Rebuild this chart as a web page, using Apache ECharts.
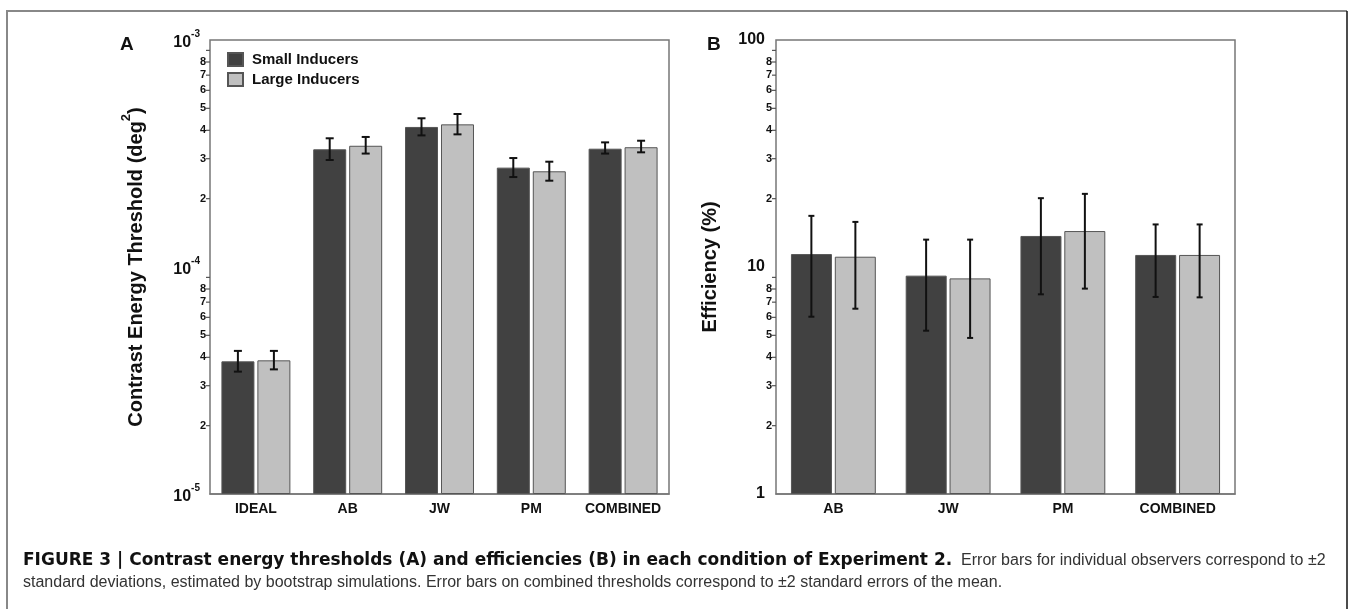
<!DOCTYPE html>
<html>
<head>
<meta charset="utf-8">
<script src="https://cdn.jsdelivr.net/npm/echarts@6/dist/echarts.min.js"></script>
<style>
  html, body { margin: 0; padding: 0; background: #fff; }
  #chart { width: 1350px; height: 609px; }
</style>
</head>
<body>
<div id="chart"></div>
<script>
// categories
var conditionsA = ['IDEAL', 'AB', 'JW', 'PM', 'COMBINED'];
var conditionsB = ['AB', 'JW', 'PM', 'COMBINED'];

// panel A: contrast energy thresholds (deg^2), mean and +-2 sd bounds
var thrSmall   = [3.84e-5, 3.30e-4, 4.14e-4, 2.74e-4, 3.32e-4];
var thrSmallLo = [3.46e-5, 2.96e-4, 3.80e-4, 2.49e-4, 3.16e-4];
var thrSmallHi = [4.27e-5, 3.69e-4, 4.52e-4, 3.02e-4, 3.54e-4];
var thrLarge   = [3.88e-5, 3.42e-4, 4.25e-4, 2.64e-4, 3.37e-4];
var thrLargeLo = [3.54e-5, 3.16e-4, 3.84e-4, 2.40e-4, 3.20e-4];
var thrLargeHi = [4.27e-5, 3.74e-4, 4.72e-4, 2.91e-4, 3.60e-4];

// panel B: efficiencies (%)
var effSmall   = [11.4, 9.16, 13.7, 11.3];
var effSmallLo = [6.04, 5.24, 7.58, 7.38];
var effSmallHi = [16.8, 13.2, 20.1, 15.4];
var effLarge   = [11.1, 8.91, 14.4, 11.3];
var effLargeLo = [6.55, 4.87, 8.03, 7.35];
var effLargeHi = [15.8, 13.2, 21.0, 15.4];

// log-axis minor ticks
var decadesA = [1e-5, 1e-4];
var decadesB = [1, 10];
var minorDigits = [2, 3, 4, 5, 6, 7, 8, 9];

var FONT = '"Liberation Sans", Arial, sans-serif';
var AXIS = '#777';
var DARK = '#414141';
var LIGHT = '#c0c0c0';

function minorData(decades) {
    var out = [];
    decades.forEach(function (d) {
        minorDigits.forEach(function (k) { out.push([0, d * k, k]); });
    });
    return out;
}

function minorTick(params, api) {
    var y = api.coord([0, api.value(1)])[1];
    var x0 = params.coordSys.x;
    var k = api.value(2);
    return {
        type: 'group',
        children: [
            { type: 'line', shape: { x1: x0 - 4, y1: y, x2: x0, y2: y },
              style: { stroke: '#555', lineWidth: 1.2 } },
            { type: 'text', x: x0 - 4, y: y,
              style: { text: k < 9 ? String(k) : '', align: 'right', verticalAlign: 'middle',
                       fontSize: 11, fontWeight: 'bold', fontFamily: FONT, fill: '#111' } }
        ]
    };
}

function errBars(offset, cap) {
    return function (params, api) {
        var c = api.value(0);
        var lo = api.coord([c, api.value(1)]);
        var hi = api.coord([c, api.value(2)]);
        var x = lo[0] + offset;
        var st = { stroke: '#111', lineWidth: 2 };
        return {
            type: 'group',
            children: [
                { type: 'line', shape: { x1: x, y1: lo[1], x2: x, y2: hi[1] }, style: st },
                { type: 'line', shape: { x1: x - cap, y1: lo[1], x2: x + cap, y2: lo[1] }, style: st },
                { type: 'line', shape: { x1: x - cap, y1: hi[1], x2: x + cap, y2: hi[1] }, style: st }
            ]
        };
    };
}

function errData(lo, hi) {
    return lo.map(function (v, i) { return [i, v, hi[i]]; });
}

var chart = echarts.init(document.getElementById('chart'));

var xCommon = {
    type: 'category',
    axisLine: { lineStyle: { color: AXIS, width: 1.5 } },
    axisTick: { length: 9, lineStyle: { color: AXIS, width: 1.2 } },
    axisLabel: { interval: 0, color: '#111', fontWeight: 'bold', fontSize: 14, fontFamily: FONT, margin: 8 }
};

var barBorder = { borderColor: '#555', borderWidth: 1 };

chart.setOption({
    animation: false,
    backgroundColor: '#fff',
    grid: [
        { left: 210, top: 40, width: 459, height: 454, show: true, borderColor: AXIS, borderWidth: 1.5 },
        { left: 776, top: 40, width: 459, height: 454, show: true, borderColor: AXIS, borderWidth: 1.5 }
    ],
    legend: {
        data: ['Small Inducers', 'Large Inducers'],
        orient: 'vertical',
        left: 222, top: 47,
        itemWidth: 15, itemHeight: 13, itemGap: 5,
        icon: 'rect',
        textStyle: { fontSize: 15, fontWeight: 'bold', fontFamily: FONT, color: '#111', padding: [0, 0, 0, 4] }
    },
    xAxis: [
        Object.assign({ gridIndex: 0, data: conditionsA }, xCommon),
        Object.assign({ gridIndex: 1, data: conditionsB }, xCommon)
    ],
    yAxis: [
        {
            gridIndex: 0, type: 'log', logBase: 10, min: 1e-5, max: 1e-3, startValue: 1e-5,
            name: '{t|Contrast Energy Threshold (deg}{s|2}{t|)}',
            nameLocation: 'middle', nameGap: 64,
            nameTextStyle: {
                rich: {
                    t: { fontSize: 20, fontWeight: 'bold', fontFamily: FONT, color: '#111', lineHeight: 26, verticalAlign: 'bottom' },
                    s: { fontSize: 13, fontWeight: 'bold', fontFamily: FONT, color: '#111', lineHeight: 14, verticalAlign: 'top' }
                }
            },
            axisLine: { lineStyle: { color: AXIS, width: 1.5 } },
            axisTick: { inside: true, length: 8, lineStyle: { color: AXIS, width: 1.2 } },
            splitLine: { show: false },
            axisLabel: {
                margin: 10,
                formatter: function (v) { return '{b|10}{s|' + Math.round(Math.log10(v)) + '}'; },
                rich: {
                    b: { fontSize: 16, fontWeight: 'bold', fontFamily: FONT, color: '#111', lineHeight: 22, verticalAlign: 'bottom' },
                    s: { fontSize: 10, fontWeight: 'bold', fontFamily: FONT, color: '#111', lineHeight: 12, verticalAlign: 'top' }
                }
            }
        },
        {
            gridIndex: 1, type: 'log', logBase: 10, min: 1, max: 100,
            name: 'Efficiency (%)', nameLocation: 'middle', nameGap: 56,
            nameTextStyle: { fontSize: 20, fontWeight: 'bold', fontFamily: FONT, color: '#111' },
            axisLine: { lineStyle: { color: AXIS, width: 1.5 } },
            axisTick: { inside: true, length: 8, lineStyle: { color: AXIS, width: 1.2 } },
            splitLine: { show: false },
            axisLabel: { margin: 11, fontSize: 16, fontWeight: 'bold', fontFamily: FONT, color: '#111' }
        }
    ],
    series: [
        { name: 'Small Inducers', type: 'bar', xAxisIndex: 0, yAxisIndex: 0, data: thrSmall,
          barWidth: 33, barGap: '9%', itemStyle: Object.assign({ color: DARK }, barBorder) },
        { name: 'Large Inducers', type: 'bar', xAxisIndex: 0, yAxisIndex: 0, data: thrLarge,
          barWidth: 33, barGap: '9%', itemStyle: Object.assign({ color: LIGHT }, barBorder) },
        { name: 'Small Inducers', type: 'bar', xAxisIndex: 1, yAxisIndex: 1, data: effSmall,
          barWidth: 41, barGap: '7%', itemStyle: Object.assign({ color: DARK }, barBorder) },
        { name: 'Large Inducers', type: 'bar', xAxisIndex: 1, yAxisIndex: 1, data: effLarge,
          barWidth: 41, barGap: '7%', itemStyle: Object.assign({ color: LIGHT }, barBorder) },
        { type: 'custom', xAxisIndex: 0, yAxisIndex: 0, renderItem: errBars(-18, 4), data: errData(thrSmallLo, thrSmallHi), z: 5 },
        { type: 'custom', xAxisIndex: 0, yAxisIndex: 0, renderItem: errBars(18, 4), data: errData(thrLargeLo, thrLargeHi), z: 5 },
        { type: 'custom', xAxisIndex: 1, yAxisIndex: 1, renderItem: errBars(-22, 3), data: errData(effSmallLo, effSmallHi), z: 5 },
        { type: 'custom', xAxisIndex: 1, yAxisIndex: 1, renderItem: errBars(22, 3), data: errData(effLargeLo, effLargeHi), z: 5 },
        { type: 'custom', xAxisIndex: 0, yAxisIndex: 0, renderItem: minorTick, data: minorData(decadesA), clip: false, silent: true },
        { type: 'custom', xAxisIndex: 1, yAxisIndex: 1, renderItem: minorTick, data: minorData(decadesB), clip: false, silent: true }
    ],
    graphic: [
        { type: 'polyline', shape: { points: [[7, 609], [7, 11], [1347, 11]] },
          style: { stroke: '#888', lineWidth: 2, fill: null } },
        { type: 'line', shape: { x1: 1347, y1: 11, x2: 1347, y2: 609 }, style: { stroke: '#111', lineWidth: 1.5 } },
        { type: 'text', x: 120, y: 45, style: { text: 'A', fontSize: 19, fontWeight: 'bold', fontFamily: FONT, fill: '#111', verticalAlign: 'middle' } },
        { type: 'text', x: 707, y: 45, style: { text: 'B', fontSize: 19, fontWeight: 'bold', fontFamily: FONT, fill: '#111', verticalAlign: 'middle' } },
        { type: 'text', x: 23, y: 561, style: {
            text: '{b|FIGURE 3 | Contrast energy thresholds (A) and efficiencies (B) in each condition of Experiment 2.}{r|  Error bars for individual observers correspond to \u00b12}',
            verticalAlign: 'middle',
            rich: {
                b: { fontSize: 17, fontWeight: 'bold', fontFamily: '"DejaVu Sans", sans-serif', fill: '#111' },
                r: { fontSize: 16, fontFamily: FONT, fill: '#333' }
            }
        } },
        { type: 'text', x: 23, y: 583, style: {
            text: 'standard deviations, estimated by bootstrap simulations. Error bars on combined thresholds correspond to \u00b12 standard errors of the mean.',
            verticalAlign: 'middle', fontSize: 16, fontFamily: FONT, fill: '#333'
        } }
    ]
});
</script>
</body>
</html>
